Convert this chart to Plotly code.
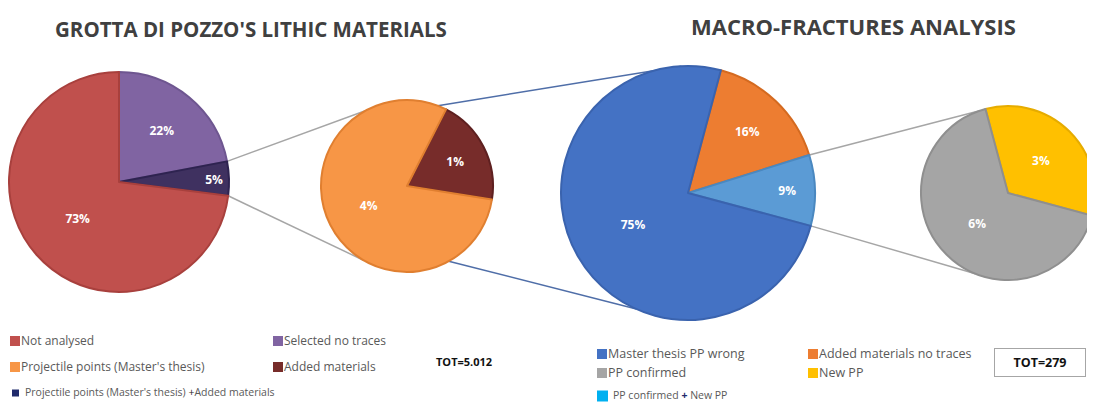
import math
import plotly.graph_objects as go

# ---------------- data ----------------
pie1_labels = ["Selected no traces", "Projectile points (Master's thesis) + Added materials", "Not analysed"]
pie1_values = [22, 5, 73]
pie1_text = ["22%", "5%", "73%"]

pie2_labels = ["Added materials", "Projectile points (Master's thesis)"]
pie2_values = [1, 4]
pie2_text = ["1%", "4%"]

pie3_labels = ["Added materials no traces", "PP confirmed + New PP", "Master thesis PP wrong"]
pie3_values = [16, 9, 75]
pie3_text = ["16%", "9%", "75%"]

pie4_labels = ["New PP", "PP confirmed"]
pie4_values = [3, 6]
pie4_text = ["3%", "6%"]

title_left = "GROTTA DI POZZO'S LITHIC MATERIALS"
title_right = "MACRO-FRACTURES ANALYSIS"
tot_left = "TOT=5.012"
tot_right = "TOT=279"

# ---------------- styles ----------------
OFF = 8                      # page body margin of the html page
W, H = 1095 - OFF, 407 - OFF  # figure size so the page is exactly the window
colors1 = ["#8064A2", "#3F3160", "#C0504D"]
lines1 = ["#6E5690", "#2E2350", "#A8403D"]
colors2 = ["#772C2A", "#F79646"]
lines2 = ["#5E2020", "#E07F30"]
colors3 = ["#ED7D31", "#5B9BD5", "#4472C4"]
lines3 = ["#D46A20", "#4A88C0", "#3A63AE"]
colors4 = ["#FFC000", "#A5A5A5"]
lines4 = ["#E6AC00", "#8F8F8F"]

# pie placement in window pixels: (cx, cy, r, rotation)
geo = {
    1: (119, 182, 110, 0),
    2: (407, 186, 86, 27),
    3: (688, 193, 127, 15),
    4: (1008, 193, 87, -15),
}


def clamp(v):
    return min(1.0, max(0.0, v))


def px(x):
    return (x - OFF) / W


def py(y):
    return 1 - (y - OFF) / H


def dom(cx, cy, r):
    return dict(x=[clamp(px(cx - r)), clamp(px(cx + r))],
                y=[clamp(py(cy + r)), clamp(py(cy - r))])


def pt(k, ang):
    cx, cy, r, _ = geo[k]
    a = math.radians(ang)
    return (cx + r * math.sin(a), cy - r * math.cos(a))


def boundary_angle(k, values, idx):
    rot = geo[k][3]
    return rot + 360.0 * sum(values[:idx]) / sum(values)


fig = go.Figure()
for k, labels, values, text, cols, lcols in [
    (1, pie1_labels, pie1_values, pie1_text, colors1, lines1),
    (2, pie2_labels, pie2_values, pie2_text, colors2, lines2),
    (3, pie3_labels, pie3_values, pie3_text, colors3, lines3),
    (4, pie4_labels, pie4_values, pie4_text, colors4, lines4),
]:
    cx, cy, r, rot = geo[k]
    fig.add_trace(go.Pie(
        labels=labels, values=values, text=text,
        texttemplate="<b>%{text}</b>", textposition="inside",
        insidetextorientation="horizontal",
        textfont=dict(color="white", size=12, family="Open Sans"),
        marker=dict(colors=cols, line=dict(color=lcols, width=2)),
        sort=False, direction="clockwise", rotation=rot,
        domain=dom(cx, cy, r), showlegend=False, hoverinfo="label+percent",
    ))

# ---------------- connector lines ----------------
def seg(p, q, color, width=1.5):
    fig.add_shape(type="line", xref="paper", yref="paper",
                  x0=px(p[0]), y0=py(p[1]), x1=px(q[0]), y1=py(q[1]),
                  line=dict(color=color, width=width), layer="below")

# pie1 small slice -> pie2
a1 = boundary_angle(1, pie1_values, 1)
a2 = boundary_angle(1, pie1_values, 2)
seg(pt(1, a1), pt(2, 331), "#A6A6A6")
seg(pt(1, a2), pt(2, 210), "#A6A6A6")
# pie2 -> pie3
seg(pt(2, 21), pt(3, -3), "#4F6EA8")
seg(pt(2, 151), pt(3, 204), "#4F6EA8")
# pie3 small slice -> pie4
b1 = boundary_angle(3, pie3_values, 1)
b2 = boundary_angle(3, pie3_values, 2)
seg(pt(3, b1), pt(4, 341), "#A6A6A6")
seg(pt(3, b2), pt(4, 202), "#A6A6A6")

# ---------------- titles ----------------
def ann(x, y, text, size=12, color="#595959", bold=False, xanchor="left", **kw):
    fig.add_annotation(x=px(x), y=py(y), xref="paper", yref="paper",
                       text=f"<b>{text}</b>" if bold else text, showarrow=False,
                       xanchor=xanchor, yanchor="middle",
                       font=dict(size=size, color=color, family="Open Sans"), **kw)

ann(251, 29, title_left, size=20.5, color="#404040", bold=True, xanchor="center")
ann(853, 26, title_right, size=22, color="#404040", bold=True, xanchor="center")

# ---------------- legends ----------------
def square(x, y, color, s=10):
    fig.add_shape(type="rect", xref="paper", yref="paper",
                  x0=px(x), x1=px(x + s), y0=py(y + s / 2), y1=py(y - s / 2),
                  fillcolor=color, line=dict(width=0))


def leg(x, y, color, label, size=12, s=10, gap=2):
    square(x, y + 1, color, s)
    ann(x + s + gap - 3, y, label, size=size)

leg(10, 340, colors1[2], "Not analysed")
leg(273, 340, colors1[0], "Selected no traces")
leg(10, 366, colors2[1], "Projectile points (Master's thesis)")
leg(273, 366, colors2[0], "Added materials")
leg(12, 392, "#1F2A6B", "Projectile points (Master's thesis) <span style='color:#222'>+</span>Added materials",
    size=10.5, s=7, gap=7)
ann(434, 361, tot_left, size=11, color="#111111", bold=True)

leg(597, 353, colors3[2], "Master thesis PP wrong", size=12.5)
leg(597, 372, colors4[1], "PP confirmed", size=12.5)
leg(808, 353, colors3[0], "Added materials no traces", size=12.5)
leg(808, 372, colors4[0], "New PP", size=12.5)
leg(597, 395, "#00B0F0", "PP confirmed <span style='color:#1F2A6B'><b>+</b></span> New PP",
    size=10.5, s=11, gap=6)
ann(1040, 362, tot_right, size=12.5, color="#111111", bold=True, xanchor="center",
    bordercolor="#A6A6A6", borderwidth=1, borderpad=5, bgcolor="white", width=80)

fig.update_layout(width=W, height=H, margin=dict(l=0, r=0, t=0, b=0),
                  paper_bgcolor="white", plot_bgcolor="white")
fig.write_html("out.html")
